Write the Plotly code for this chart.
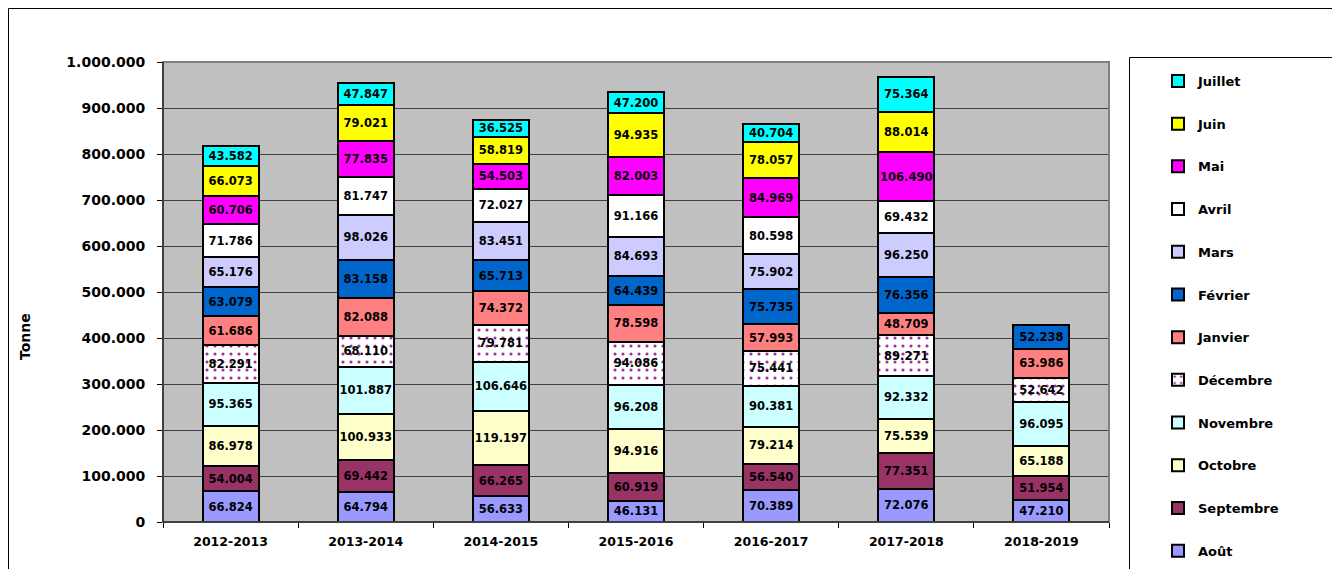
import plotly.graph_objects as go

seasons = ["2012-2013", "2013-2014", "2014-2015", "2015-2016", "2016-2017", "2017-2018", "2018-2019"]
months = ["Août", "Septembre", "Octobre", "Novembre", "Décembre", "Janvier",
          "Février", "Mars", "Avril", "Mai", "Juin", "Juillet"]

aout      = [66824, 64794, 56633, 46131, 70389, 72076, 47210]
septembre = [54004, 69442, 66265, 60919, 56540, 77351, 51954]
octobre   = [86978, 100933, 119197, 94916, 79214, 75539, 65188]
novembre  = [95365, 101887, 106646, 96208, 90381, 92332, 96095]
decembre  = [82291, 68110, 79781, 94086, 75441, 89271, 52642]
janvier   = [61686, 82088, 74372, 78598, 57993, 48709, 63986]
fevrier   = [63079, 83158, 65713, 64439, 75735, 76356, 52238]
mars      = [65176, 98026, 83451, 84693, 75902, 96250, None]
avril     = [71786, 81747, 72027, 91166, 80598, 69432, None]
mai       = [60706, 77835, 54503, 82003, 84969, 106490, None]
juin      = [66073, 79021, 58819, 94935, 78057, 88014, None]
juillet   = [43582, 47847, 36525, 47200, 40704, 75364, None]

series = [aout, septembre, octobre, novembre, decembre, janvier,
          fevrier, mars, avril, mai, juin, juillet]
colors = ["#9999FF", "#993366", "#FFFFCC", "#CCFFFF", "#FFFFFF", "#FF8080",
          "#0066CC", "#CCCCFF", "#FFFFFF", "#FF00FF", "#FFFF00", "#00FFFF"]

y_ticks = [0, 100000, 200000, 300000, 400000, 500000, 600000, 700000, 800000, 900000, 1000000]

# page body offset of 8px: work in screenshot coordinates, convert to figure coordinates
OFF = 8
W, H = 1332, 590
L, R, T, B = 163 - OFF, 1109 - OFF, 62 - OFF, 522 - OFF


def px(x):
    return (x - OFF - L) / (R - L)


def py(y):
    return (B - (y - OFF)) / (B - T)


FONT = "DejaVu Sans, Verdana, sans-serif"

fig = go.Figure()
n = len(months)
for i, (name, vals, col) in enumerate(zip(months, series, colors)):
    marker = dict(color=col, line=dict(color="black", width=2))
    if name == "Décembre":
        marker["pattern"] = dict(shape=".", fgcolor="#993399", bgcolor="white",
                                 size=8, solidity=0.12, fillmode="replace")
    fig.add_trace(go.Bar(
        x=seasons, y=vals, name=name, marker=marker,
        legendgroup=name, legendrank=n - i,
        texttemplate="%{y:,.0f}", textposition="inside",
        insidetextanchor="middle", textangle=0,
        textfont=dict(family=FONT, size=11.5, color="black", weight="bold"),
        hoverinfo="skip",
    ))

fig.update_layout(
    width=W, height=H,
    barmode="stack", bargap=0.585,
    separators=",.",
    paper_bgcolor="white", plot_bgcolor="#C0C0C0",
    margin=dict(l=L, r=W - R, t=T, b=H - B, pad=0),
    font=dict(family=FONT, size=12, color="black"),
    uniformtext=dict(minsize=11.5, mode="show"),
    showlegend=True,
    legend=dict(
        x=px(1158), y=py(66), xanchor="left", yanchor="top",
        traceorder="grouped", tracegroupgap=22.8, maxheight=700,
        font=dict(family=FONT, size=13, color="black", weight="bold"),
        bgcolor="rgba(0,0,0,0)", borderwidth=0,
    ),
    xaxis=dict(
        showline=True, linecolor="black", linewidth=1,
        ticks="outside", ticklen=5, tickcolor="black", tickson="boundaries",
        ticklabelstandoff=8,
        tickfont=dict(family=FONT, size=12.5, color="black", weight="bold"),
        showgrid=False, fixedrange=True,
    ),
    yaxis=dict(
        range=[0, 1000000], tickvals=y_ticks, tickformat=",d",
        showline=True, linecolor="black", linewidth=1,
        ticks="outside", ticklen=5, tickcolor="black",
        ticklabelstandoff=9,
        tickfont=dict(family=FONT, size=14, color="black", weight="bold"),
        showgrid=True, gridcolor="#404040", gridwidth=1,
        zeroline=False, fixedrange=True,
    ),
    shapes=[
        dict(type="rect", xref="paper", yref="paper", x0=px(8.5), x1=px(1333), y0=py(600), y1=py(8.5),
             line=dict(color="black", width=1), fillcolor="rgba(0,0,0,0)", layer="below"),
        dict(type="rect", xref="paper", yref="paper", x0=0, x1=1, y0=0, y1=1,
             line=dict(color="#808080", width=2), fillcolor="rgba(0,0,0,0)", layer="above"),
        dict(type="line", xref="paper", yref="paper", x0=0, x1=0, y0=0, y1=1,
             line=dict(color="black", width=1), layer="above"),
        dict(type="line", xref="paper", yref="paper", x0=0, x1=1, y0=0, y1=0,
             line=dict(color="black", width=1), layer="above"),
        dict(type="rect", xref="paper", yref="paper", x0=px(1129.5), x1=px(1333), y0=py(600), y1=py(57.5),
             line=dict(color="black", width=1), fillcolor="white", layer="below"),
    ],
    annotations=[
        dict(text="Tonne", xref="paper", yref="paper", x=px(25), y=py(337),
             textangle=-90, showarrow=False, xanchor="center", yanchor="middle",
             font=dict(family=FONT, size=14, color="black", weight="bold")),
    ],
)

fig.write_html("out.html")
